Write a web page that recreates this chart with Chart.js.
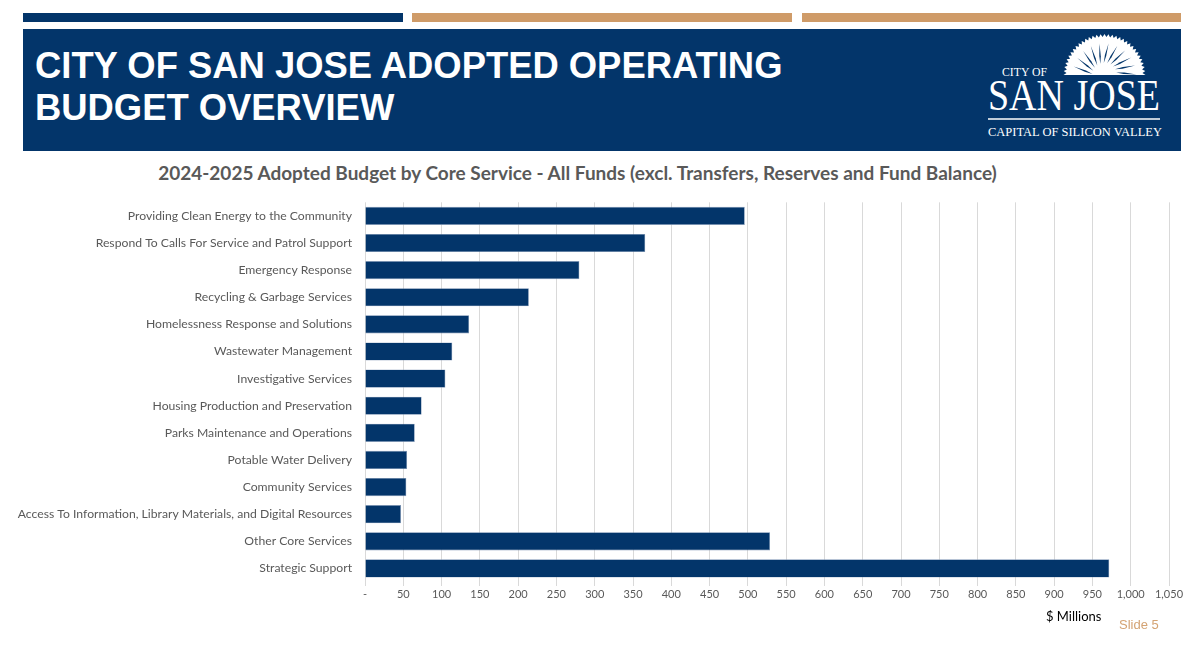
<!DOCTYPE html>
<html>
<head>
<meta charset="utf-8">
<title>San Jose Adopted Operating Budget Overview</title>
<script src="https://cdn.jsdelivr.net/npm/chart.js@4/dist/chart.umd.min.js"></script>
<style>
  html, body { margin: 0; padding: 0; background: #fff; }
  body { width: 1200px; height: 647px; position: relative; overflow: hidden; font-family: "Liberation Sans", Arial, sans-serif; }
  .strip { position: absolute; top: 13px; height: 9px; }
  #banner { position: absolute; left: 23px; top: 29px; width: 1158px; height: 122px; background: #03356a; }
  #banner h1 { position: absolute; left: 12px; top: 16px; margin: 0; color: #fff; font: bold 36.4px/42px "Liberation Sans", Arial, sans-serif; }
  #logo { position: absolute; left: 980px; top: 30px; }
  #chartTitle { position: absolute; left: 0; width: 1155px; top: 161px; text-align: center; color: #595959; font: bold 19px "Lato", sans-serif; white-space: nowrap; }
  #unit { position: absolute; left: 1046px; top: 608px; color: #000; font: 13px "Lato", sans-serif; }
  #slide { position: absolute; left: 1119px; top: 617px; color: #d4a373; font: 13px "Liberation Sans", Arial, sans-serif; }
  #wrap { position: absolute; left: 0; top: 182px; width: 1200px; height: 428px; }
</style>
</head>
<body>
<div class="strip" style="left:23px;width:380px;background:#03356a"></div>
<div class="strip" style="left:412px;width:380px;background:#cf9b68"></div>
<div class="strip" style="left:802px;width:379px;background:#cf9b68"></div>

<div id="banner">
  <h1>CITY OF SAN JOSE ADOPTED OPERATING<br>BUDGET OVERVIEW</h1>
</div>

<svg id="logo" width="200" height="120" viewBox="0 0 200 120">
  <g id="sun"></g>
  <g fill="#fff" font-family="Liberation Serif, serif">
    <text x="22" y="46" font-size="11.5" textLength="45" lengthAdjust="spacingAndGlyphs">CITY OF</text>
    <text x="8" y="80" font-size="45" textLength="172" lengthAdjust="spacingAndGlyphs">SAN JOSE</text>
    <text x="8" y="106" font-size="12.5" textLength="174" lengthAdjust="spacingAndGlyphs">CAPITAL OF SILICON VALLEY</text>
  </g>
  <line x1="8" y1="89" x2="180" y2="89" stroke="#fff" stroke-width="1.5"/>
</svg>

<div id="chartTitle">2024-2025 Adopted Budget by Core Service - All Funds (excl. Transfers, Reserves and Fund Balance)</div>

<div id="wrap"><canvas id="chart"></canvas></div>

<div id="unit">$ Millions</div>
<div id="slide">Slide 5</div>

<script>
'use strict';

// core services, top to bottom
const services = [
    'Providing Clean Energy to the Community',
    'Respond To Calls For Service and Patrol Support',
    'Emergency Response',
    'Recycling & Garbage Services',
    'Homelessness Response and Solutions',
    'Wastewater Management',
    'Investigative Services',
    'Housing Production and Preservation',
    'Parks Maintenance and Operations',
    'Potable Water Delivery',
    'Community Services',
    'Access To Information, Library Materials, and Digital Resources',
    'Other Core Services',
    'Strategic Support'
];

// $ millions
const budgetMillions = [496, 366, 280, 214, 136, 114, 105, 74, 65, 55, 54, 47, 529, 972];

// x axis tick labels (0 .. 1,050 by 50)
const tickValues = [0, 50, 100, 150, 200, 250, 300, 350, 400, 450, 500, 550,
    600, 650, 700, 750, 800, 850, 900, 950, 1000, 1050];
const tickLabels = ['-', '50', '100', '150', '200', '250', '300', '350', '400', '450', '500', '550',
    '600', '650', '700', '750', '800', '850', '900', '950', '1,000', '1,050'];

const NAVY = '#03356a';

// sunburst of the city logo
(function drawSun() {
    const g = document.getElementById('sun');
    const cx = 124.5, cy = 45, rOut = 41, rIn = 38;
    const p = (r, ang) => (cx + r * Math.cos(ang)).toFixed(1) + ',' + (cy + r * Math.sin(ang)).toFixed(1);
    let pts = [];
    const teeth = 64;
    for (let i = 0; i <= teeth; i++) {
        const a = Math.PI + Math.PI * i / teeth;
        pts.push(p(i % 2 === 0 ? rOut : rIn, a));
    }
    let svg = '<polygon fill="#fff" points="' + pts.join(' ') + '"/>';
    // dark flame-like rays
    const rays = 11;
    for (let i = 0; i < rays; i++) {
        const a = Math.PI + Math.PI * (i + 0.5) / rays;
        svg += '<polygon fill="' + NAVY + '" points="' + p(12, a - 0.07) + ' ' + p(20, a + 0.02) + ' ' +
            p(32, a + 0.13) + ' ' + p(19, a + 0.09) + '"/>';
    }
    svg += '<rect x="' + (cx - 42) + '" y="' + (cy + 0.5) + '" width="84" height="2" fill="' + NAVY + '"/>';
    g.innerHTML = svg;
})();

const ctx = document.getElementById('chart').getContext('2d');

new Chart(ctx, {
    type: 'bar',
    data: {
        labels: services,
        datasets: [{
            label: '2024-2025 Adopted Budget ($ Millions)',
            data: budgetMillions,
            backgroundColor: NAVY,
            borderColor: '#7f95b5',
            borderWidth: 0.6,
            barPercentage: 0.67,
            categoryPercentage: 1
        }]
    },
    options: {
        indexAxis: 'y',
        responsive: true,
        maintainAspectRatio: false,
        animation: false,
        layout: { padding: { top: 0, right: 31, left: 0, bottom: 0 } },
        plugins: {
            legend: { display: false },
            title: { display: false },
            tooltip: {
                callbacks: {
                    label: (c) => '$' + c.raw.toFixed(0) + 'M'
                }
            }
        },
        scales: {
            x: {
                min: 0,
                max: 1050,
                afterBuildTicks: (scale) => {
                    scale.ticks = tickValues.map(v => ({ value: v }));
                },
                afterFit: (scale) => { scale.height = 28; },
                grid: { color: '#d9d9d9', lineWidth: 1, tickLength: 4, drawTicks: true },
                border: { display: false },
                ticks: {
                    padding: 2,
                    color: '#595959',
                    font: { family: 'Lato', size: 11 },
                    maxRotation: 0,
                    autoSkip: false,
                    callback: (value, i) => tickLabels[i]
                }
            },
            y: {
                afterFit: (scale) => { scale.width = 365; },
                grid: { display: false, drawTicks: false },
                border: { display: false },
                ticks: {
                    padding: 13,
                    color: '#595959',
                    font: { family: 'Lato', size: 12.2 },
                    autoSkip: false
                }
            }
        }
    }
});
</script>
</body>
</html>
